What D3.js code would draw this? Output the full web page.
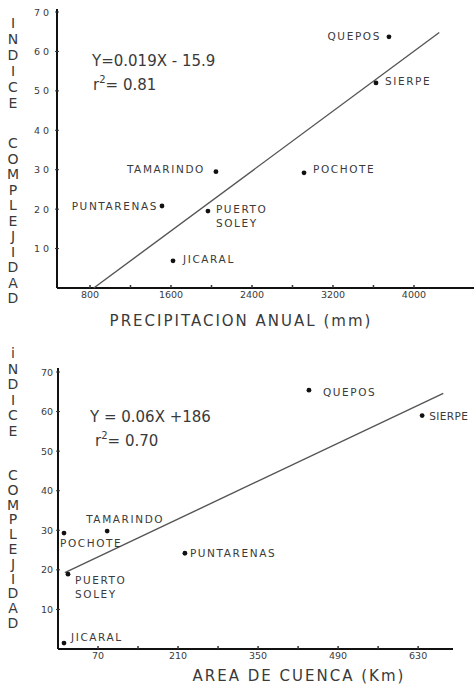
<!DOCTYPE html>
<html>
<head>
<meta charset="utf-8">
<script src="https://cdn.jsdelivr.net/npm/d3@7"></script>
<style>
  body { margin: 0; background: #fff; }
  text { font-family: "DejaVu Sans", sans-serif; fill: #3a3a3a; }
</style>
</head>
<body>
<div id="chart"></div>
<script>
// ---- data ----
const sites = ["QUEPOS", "SIERPE", "POCHOTE", "TAMARINDO", "PUNTARENAS", "PUERTO SOLEY", "JICARAL"];
const complejidadTop = [63.7, 52, 29.2, 29.5, 20.8, 19.5, 6.9];
const precipitacion = [3753, 3625, 2914, 2044, 1511, 1965, 1620];
const complejidadBot = [65.4, 59, 29.3, 29.8, 24.2, 18.9, 1.5];
const areaCuenca = [439, 637, 10.5, 86, 222, 17.5, 10.5];

const topXTicks = [800, 1600, 2400, 3200, 4000];
const topXMinor = [1200, 2000, 2800, 3600];
const botXTicks = [70, 210, 350, 490, 630];
const botXMinor = [140, 280, 420, 560];
const yTicks = [10, 20, 30, 40, 50, 60, 70];

const topFit = [[837, 0], [4250, 64.8]];
const botFit = [[12, 19.3], [674, 64.6]];

const topEq = ["Y=0.019X - 15.9", "0.81"];
const botEq = ["Y = 0.06X  +186", "0.70"];

let svg = d3.select("#chart").append("svg")
    .attr("width", 474).attr("height", 684);

// label placement (dx, dy, anchor, letter-spacing) per site, per panel
const topLabelPos = {
    "QUEPOS": [-8, 3, "end"], "SIERPE": [9, 2, "start"], "POCHOTE": [9, 0, "start"],
    "TAMARINDO": [-11, 1, "end"], "PUNTARENAS": [-4, 4, "end"], "PUERTO SOLEY": [8, 2, "start"],
    "JICARAL": [10, 2, "start"]
};
const botLabelPos = {
    "QUEPOS": [14, 6, "start"], "SIERPE": [7, 4, "start", "0.4px"], "POCHOTE": [-4, 14, "start"],
    "TAMARINDO": [-21, -8, "start"], "PUNTARENAS": [5, 4, "start"], "PUERTO SOLEY": [7, 10, "start"],
    "JICARAL": [7, -2, "start"]
};

function drawPanel(cfg) {
    let g = svg.append("g");

    let x = d3.scaleLinear().domain(cfg.xDomain).range([cfg.left, cfg.right]);
    let y = d3.scaleLinear().domain([0, 70]).range([cfg.bottom, cfg.top70]);

    // axes
    g.append("line")
        .attr("x1", cfg.left).attr("x2", cfg.left)
        .attr("y1", cfg.axisTop).attr("y2", cfg.bottom)
        .attr("stroke", "#111").attr("stroke-width", 2);
    g.append("line")
        .attr("x1", cfg.left).attr("x2", cfg.axisRight)
        .attr("y1", cfg.bottom).attr("y2", cfg.bottom)
        .attr("stroke", "#111").attr("stroke-width", 2);

    // y ticks
    g.selectAll(".yt").data(yTicks).enter().append("line")
        .attr("x1", cfg.left - 2).attr("x2", cfg.left + 2)
        .attr("y1", d => y(d)).attr("y2", d => y(d))
        .attr("stroke", "#333").attr("stroke-width", 1);
    g.selectAll(".yl").data(yTicks).enter().append("text")
        .attr("x", cfg.left - 5)
        .attr("y", d => y(d) + 3.5)
        .attr("text-anchor", "end")
        .attr("font-size", "9.5px")
        .attr("letter-spacing", cfg.yTickSpacing)
        .text(d => d);

    // x ticks
    g.selectAll(".xt").data(cfg.xTicks.concat(cfg.xMinor)).enter().append("line")
        .attr("x1", d => x(d)).attr("x2", d => x(d))
        .attr("y1", cfg.bottom - 3).attr("y2", cfg.bottom)
        .attr("stroke", "#333").attr("stroke-width", 1.5);
    g.selectAll(".xl").data(cfg.xTicks).enter().append("text")
        .attr("x", d => x(d))
        .attr("y", cfg.bottom + 10)
        .attr("text-anchor", "middle")
        .attr("font-size", "9.5px")
        .attr("fill", "#555")
        .text(d => d);

    // fitted line
    g.append("line")
        .attr("x1", x(cfg.fit[0][0])).attr("y1", y(cfg.fit[0][1]))
        .attr("x2", x(cfg.fit[1][0])).attr("y2", y(cfg.fit[1][1]))
        .attr("stroke", "#555").attr("stroke-width", 1.4);

    // points
    let pts = sites.map((s, i) => ({name: s, xv: cfg.xs[i], yv: cfg.ys[i]}));
    g.selectAll(".pt").data(pts).enter().append("circle")
        .attr("cx", d => x(d.xv)).attr("cy", d => y(d.yv))
        .attr("r", 2.4).attr("fill", "#111");

    // point labels
    pts.forEach(d => {
        let p = cfg.labelPos[d.name];
        let words = d.name === "PUERTO SOLEY" ? ["PUERTO", "SOLEY"] : [d.name];
        words.forEach((w, k) => {
            g.append("text")
                .attr("x", x(d.xv) + p[0])
                .attr("y", y(d.yv) + p[1] + k * 14)
                .attr("text-anchor", p[2])
                .attr("font-size", "10.5px")
                .attr("letter-spacing", p[3] || "1.6px")
                .attr("fill", "#444")
                .text(w);
        });
    });

    // equation
    g.append("text")
        .attr("x", cfg.eqX).attr("y", cfg.eqY)
        .attr("font-size", "15px")
        .attr("fill", "#333")
        .text(cfg.eq[0]);
    let r2 = g.append("text")
        .attr("x", cfg.eqX + cfg.r2dx).attr("y", cfg.eqY + 24)
        .attr("font-size", "15px")
        .attr("fill", "#333");
    r2.append("tspan").text("r");
    r2.append("tspan").attr("font-size", "10px").attr("dy", -7).text("2");
    r2.append("tspan").attr("dy", 7).text("= " + cfg.eq[1]);

    // x axis title
    g.append("text")
        .attr("x", cfg.titleX).attr("y", cfg.titleY)
        .attr("text-anchor", "middle")
        .attr("font-size", "15px")
        .attr("letter-spacing", "2px")
        .attr("fill", "#333")
        .text(cfg.title);

    // vertical y title
    let word1 = cfg.yWord1.split("");
    g.selectAll(".v1").data(word1).enter().append("text")
        .attr("x", 13)
        .attr("y", (d, i) => cfg.y1Start + i * cfg.y1Step)
        .attr("text-anchor", "middle")
        .attr("font-size", "14px")
        .attr("fill", "#333")
        .text(d => d);
    let word2 = "COMPLEJIDAD".split("");
    g.selectAll(".v2").data(word2).enter().append("text")
        .attr("x", 13)
        .attr("y", (d, i) => cfg.y2Start + i * cfg.y2Step)
        .attr("text-anchor", "middle")
        .attr("font-size", "14px")
        .attr("fill", "#333")
        .text(d => d);
}

drawPanel({
    xDomain: [474, 4593], left: 57, right: 474, axisRight: 474,
    bottom: 288, top70: 12, axisTop: 9,
    xTicks: topXTicks, xMinor: topXMinor,
    xs: precipitacion, ys: complejidadTop,
    fit: topFit, labelPos: topLabelPos,
    eq: topEq, eqX: 92, eqY: 66, r2dx: 1,
    title: "PRECIPITACION  ANUAL (mm)", titleX: 241, titleY: 326,
    yTickSpacing: "3px",
    yWord1: "INDICE", y1Start: 28, y1Step: 16,
    y2Start: 148, y2Step: 15.5
});

drawPanel({
    xDomain: [0, 691], left: 58, right: 453, axisRight: 453,
    bottom: 649, top70: 372, axisTop: 368,
    xTicks: botXTicks, xMinor: botXMinor,
    xs: areaCuenca, ys: complejidadBot,
    fit: botFit, labelPos: botLabelPos,
    eq: botEq, eqX: 90, eqY: 422, r2dx: 5,
    title: "AREA  DE  CUENCA  (Km)", titleX: 299, titleY: 681,
    yTickSpacing: "0px",
    yWord1: "iNDICE", y1Start: 358, y1Step: 15.5,
    y2Start: 480, y2Step: 14.8
});
</script>
</body>
</html>
